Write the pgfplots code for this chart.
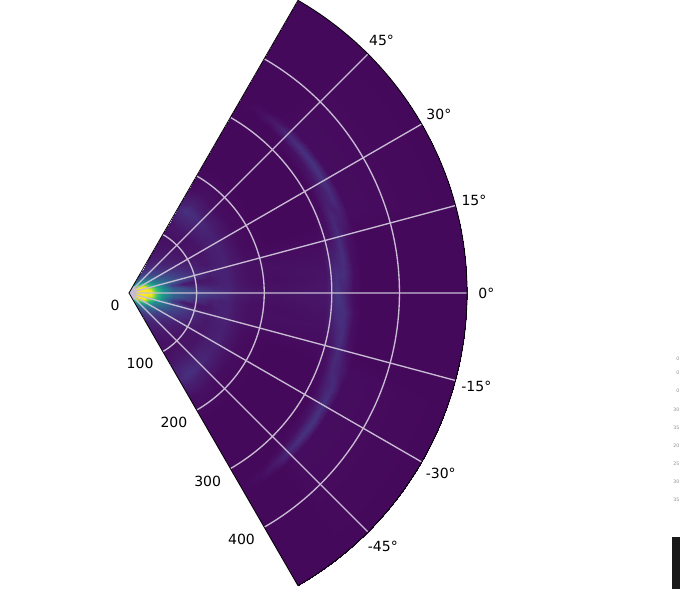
\documentclass[border=0pt]{standalone}
\usepackage{fontspec}
\setmainfont{DejaVu Sans}
\usepackage{pgfplots}
\pgfplotsset{compat=1.18}
\usepgfplotslibrary{polar}
\usetikzlibrary{calc}
\definecolor{gridlilac}{RGB}{200,188,212}
\begin{document}
\begin{tikzpicture}
\begin{polaraxis}[
    x=1.014pt, y=1.014pt,
    xmin=-60, xmax=60, ymin=0, ymax=500,
    xtick={-45,-30,-15,0,15,30,45},
    xticklabels={-45°,-30°,-15°,\hspace*{5pt}0°,15°,30°,45°},
    ytick={0,100,200,300,400},
    yticklabels={0,100,200,300,400},
    yticklabel style={anchor=east, xshift=-3.5pt, yshift=-9.2pt},
    grid=major,
    grid style={draw=gridlilac, line width=1pt},
    major tick length=0pt,
    axis on top,
    axis line style={black, line width=0.6pt},
    tick label style={font=\fontsize{10.5}{12}\selectfont, black},
    colormap/viridis,
    point meta min=0, point meta max=1,
]
\addplot[surf, shader=interp, mesh/cols=25, mesh/rows=22, point meta=explicit]
table[row sep=\\, x=t, y=r, meta=c]{
t r c\\
-60 0 1\\ -55 0 1\\ -50 0 1\\ -45 0 1\\ -40 0 1\\ -35 0 1\\ -30 0 1\\ -25 0 1\\ -20 0 1\\ -15 0 1\\ -10 0 1\\ -5 0 1\\ 0 0 1\\ 5 0 1\\ 10 0 1\\ 15 0 1\\ 20 0 1\\ 25 0 1\\ 30 0 1\\ 35 0 1\\ 40 0 1\\ 45 0 1\\ 50 0 1\\ 55 0 1\\ 60 0 1\\
-60 8 .6\\ -55 8 .7\\ -50 8 .8\\ -45 8 .9\\ -40 8 .95\\ -35 8 1\\ -30 8 1\\ -25 8 1\\ -20 8 1\\ -15 8 1\\ -10 8 1\\ -5 8 1\\ 0 8 1\\ 5 8 1\\ 10 8 1\\ 15 8 1\\ 20 8 1\\ 25 8 1\\ 30 8 1\\ 35 8 1\\ 40 8 .95\\ 45 8 .9\\ 50 8 .8\\ 55 8 .7\\ 60 8 .6\\
-60 16 .4\\ -55 16 .48\\ -50 16 .58\\ -45 16 .7\\ -40 16 .82\\ -35 16 .92\\ -30 16 1\\ -25 16 1\\ -20 16 1\\ -15 16 1\\ -10 16 1\\ -5 16 1\\ 0 16 1\\ 5 16 1\\ 10 16 1\\ 15 16 1\\ 20 16 1\\ 25 16 1\\ 30 16 1\\ 35 16 .92\\ 40 16 .82\\ 45 16 .7\\ 50 16 .58\\ 55 16 .48\\ 60 16 .4\\
-60 24 .22\\ -55 24 .3\\ -50 24 .36\\ -45 24 .45\\ -40 24 .55\\ -35 24 .68\\ -30 24 .82\\ -25 24 .92\\ -20 24 1\\ -15 24 1\\ -10 24 1\\ -5 24 1\\ 0 24 1\\ 5 24 1\\ 10 24 1\\ 15 24 1\\ 20 24 1\\ 25 24 .92\\ 30 24 .82\\ 35 24 .68\\ 40 24 .55\\ 45 24 .45\\ 50 24 .36\\ 55 24 .3\\ 60 24 .22\\
-60 32 .15\\ -55 32 .2\\ -50 32 .25\\ -45 32 .3\\ -40 32 .36\\ -35 32 .42\\ -30 32 .52\\ -25 32 .62\\ -20 32 .72\\ -15 32 .82\\ -10 32 .92\\ -5 32 .98\\ 0 32 1\\ 5 32 .98\\ 10 32 .92\\ 15 32 .82\\ 20 32 .72\\ 25 32 .62\\ 30 32 .52\\ 35 32 .42\\ 40 32 .36\\ 45 32 .3\\ 50 32 .25\\ 55 32 .2\\ 60 32 .15\\
-60 40 .12\\ -55 40 .14\\ -50 40 .17\\ -45 40 .2\\ -40 40 .25\\ -35 40 .3\\ -30 40 .36\\ -25 40 .42\\ -20 40 .5\\ -15 40 .58\\ -10 40 .68\\ -5 40 .72\\ 0 40 .75\\ 5 40 .72\\ 10 40 .68\\ 15 40 .58\\ 20 40 .5\\ 25 40 .42\\ 30 40 .36\\ 35 40 .3\\ 40 40 .25\\ 45 40 .2\\ 50 40 .17\\ 55 40 .14\\ 60 40 .12\\
-60 50 .08\\ -55 50 .1\\ -50 50 .12\\ -45 50 .14\\ -40 50 .16\\ -35 50 .19\\ -30 50 .24\\ -25 50 .3\\ -20 50 .35\\ -15 50 .4\\ -10 50 .48\\ -5 50 .5\\ 0 50 .55\\ 5 50 .5\\ 10 50 .48\\ 15 50 .4\\ 20 50 .35\\ 25 50 .3\\ 30 50 .24\\ 35 50 .19\\ 40 50 .16\\ 45 50 .14\\ 50 50 .12\\ 55 50 .1\\ 60 50 .08\\
-60 65 .06\\ -55 65 .07\\ -50 65 .08\\ -45 65 .09\\ -40 65 .1\\ -35 65 .12\\ -30 65 .15\\ -25 65 .19\\ -20 65 .23\\ -15 65 .27\\ -10 65 .18\\ -5 65 .3\\ 0 65 .34\\ 5 65 .3\\ 10 65 .18\\ 15 65 .3\\ 20 65 .23\\ 25 65 .19\\ 30 65 .15\\ 35 65 .12\\ 40 65 .1\\ 45 65 .09\\ 50 65 .08\\ 55 65 .07\\ 60 65 .06\\
-60 80 .05\\ -55 80 .05\\ -50 80 .06\\ -45 80 .06\\ -40 80 .07\\ -35 80 .08\\ -30 80 .1\\ -25 80 .13\\ -20 80 .17\\ -15 80 .2\\ -10 80 .07\\ -5 80 .22\\ 0 80 .27\\ 5 80 .22\\ 10 80 .07\\ 15 80 .23\\ 20 80 .17\\ 25 80 .13\\ 30 80 .1\\ 35 80 .08\\ 40 80 .07\\ 45 80 .06\\ 50 80 .06\\ 55 80 .05\\ 60 80 .05\\
-60 100 .04\\ -55 100 .04\\ -50 100 .04\\ -45 100 .04\\ -40 100 .05\\ -35 100 .05\\ -30 100 .06\\ -25 100 .08\\ -20 100 .1\\ -15 100 .12\\ -10 100 .05\\ -5 100 .14\\ 0 100 .22\\ 5 100 .13\\ 10 100 .05\\ 15 100 .14\\ 20 100 .1\\ 25 100 .08\\ 30 100 .06\\ 35 100 .05\\ 40 100 .05\\ 45 100 .04\\ 50 100 .04\\ 55 100 .04\\ 60 100 .04\\
-60 120 .05\\ -55 120 .06\\ -50 120 .06\\ -45 120 .05\\ -40 120 .05\\ -35 120 .05\\ -30 120 .05\\ -25 120 .06\\ -20 120 .06\\ -15 120 .08\\ -10 120 .06\\ -5 120 .09\\ 0 120 .17\\ 5 120 .09\\ 10 120 .06\\ 15 120 .09\\ 20 120 .06\\ 25 120 .06\\ 30 120 .05\\ 35 120 .05\\ 40 120 .05\\ 45 120 .05\\ 50 120 .06\\ 55 120 .06\\ 60 120 .05\\
-60 135 .09\\ -55 135 .1\\ -50 135 .1\\ -45 135 .09\\ -40 135 .09\\ -35 135 .08\\ -30 135 .08\\ -25 135 .08\\ -20 135 .08\\ -15 135 .09\\ -10 135 .09\\ -5 135 .09\\ 0 135 .14\\ 5 135 .09\\ 10 135 .09\\ 15 135 .09\\ 20 135 .08\\ 25 135 .08\\ 30 135 .08\\ 35 135 .08\\ 40 135 .09\\ 45 135 .09\\ 50 135 .1\\ 55 135 .1\\ 60 135 .09\\
-60 148 .1\\ -55 148 .14\\ -50 148 .13\\ -45 148 .11\\ -40 148 .1\\ -35 148 .09\\ -30 148 .09\\ -25 148 .09\\ -20 148 .09\\ -15 148 .09\\ -10 148 .09\\ -5 148 .09\\ 0 148 .11\\ 5 148 .09\\ 10 148 .09\\ 15 148 .09\\ 20 148 .09\\ 25 148 .09\\ 30 148 .09\\ 35 148 .09\\ 40 148 .1\\ 45 148 .11\\ 50 148 .13\\ 55 148 .14\\ 60 148 .1\\
-60 160 .07\\ -55 160 .09\\ -50 160 .08\\ -45 160 .07\\ -40 160 .07\\ -35 160 .06\\ -30 160 .06\\ -25 160 .06\\ -20 160 .06\\ -15 160 .06\\ -10 160 .06\\ -5 160 .06\\ 0 160 .08\\ 5 160 .06\\ 10 160 .06\\ 15 160 .06\\ 20 160 .06\\ 25 160 .06\\ 30 160 .06\\ 35 160 .06\\ 40 160 .07\\ 45 160 .07\\ 50 160 .08\\ 55 160 .09\\ 60 160 .07\\
-60 180 .03\\ -55 180 .04\\ -50 180 .04\\ -45 180 .03\\ -40 180 .03\\ -35 180 .03\\ -30 180 .03\\ -25 180 .03\\ -20 180 .03\\ -15 180 .04\\ -10 180 .04\\ -5 180 .04\\ 0 180 .06\\ 5 180 .04\\ 10 180 .04\\ 15 180 .04\\ 20 180 .03\\ 25 180 .03\\ 30 180 .03\\ 35 180 .03\\ 40 180 .03\\ 45 180 .03\\ 50 180 .04\\ 55 180 .04\\ 60 180 .03\\
-60 220 .02\\ -55 220 .02\\ -50 220 .02\\ -45 220 .02\\ -40 220 .02\\ -35 220 .02\\ -30 220 .02\\ -25 220 .02\\ -20 220 .02\\ -15 220 .03\\ -10 220 .04\\ -5 220 .035\\ 0 220 .05\\ 5 220 .035\\ 10 220 .04\\ 15 220 .03\\ 20 220 .02\\ 25 220 .02\\ 30 220 .02\\ 35 220 .02\\ 40 220 .02\\ 45 220 .02\\ 50 220 .02\\ 55 220 .02\\ 60 220 .02\\
-60 292 .02\\ -55 292 .02\\ -50 292 .02\\ -45 292 .02\\ -40 292 .02\\ -35 292 .02\\ -30 292 .02\\ -25 292 .02\\ -20 292 .02\\ -15 292 .03\\ -10 292 .04\\ -5 292 .05\\ 0 292 .06\\ 5 292 .05\\ 10 292 .04\\ 15 292 .03\\ 20 292 .02\\ 25 292 .02\\ 30 292 .02\\ 35 292 .02\\ 40 292 .02\\ 45 292 .02\\ 50 292 .02\\ 55 292 .02\\ 60 292 .02\\
-60 308 .02\\ -55 308 .02\\ -50 308 .02\\ -45 308 .02\\ -40 308 .02\\ -35 308 .02\\ -30 308 .02\\ -25 308 .03\\ -20 308 .04\\ -15 308 .05\\ -10 308 .09\\ -5 308 .13\\ 0 308 .16\\ 5 308 .13\\ 10 308 .09\\ 15 308 .05\\ 20 308 .04\\ 25 308 .03\\ 30 308 .02\\ 35 308 .02\\ 40 308 .02\\ 45 308 .02\\ 50 308 .02\\ 55 308 .02\\ 60 308 .02\\
-60 320 .02\\ -55 320 .02\\ -50 320 .02\\ -45 320 .03\\ -40 320 .04\\ -35 320 .05\\ -30 320 .06\\ -25 320 .08\\ -20 320 .11\\ -15 320 .12\\ -10 320 .13\\ -5 320 .13\\ 0 320 .09\\ 5 320 .13\\ 10 320 .13\\ 15 320 .12\\ 20 320 .11\\ 25 320 .08\\ 30 320 .06\\ 35 320 .05\\ 40 320 .04\\ 45 320 .03\\ 50 320 .02\\ 55 320 .02\\ 60 320 .02\\
-60 332 .02\\ -55 332 .03\\ -50 332 .06\\ -45 332 .11\\ -40 332 .14\\ -35 332 .15\\ -30 332 .14\\ -25 332 .12\\ -20 332 .08\\ -15 332 .05\\ -10 332 .04\\ -5 332 .04\\ 0 332 .03\\ 5 332 .04\\ 10 332 .04\\ 15 332 .05\\ 20 332 .08\\ 25 332 .12\\ 30 332 .14\\ 35 332 .15\\ 40 332 .14\\ 45 332 .11\\ 50 332 .06\\ 55 332 .03\\ 60 332 .02\\
-60 344 .02\\ -55 344 .02\\ -50 344 .02\\ -45 344 .03\\ -40 344 .03\\ -35 344 .03\\ -30 344 .03\\ -25 344 .03\\ -20 344 .03\\ -15 344 .02\\ -10 344 .02\\ -5 344 .02\\ 0 344 .02\\ 5 344 .02\\ 10 344 .02\\ 15 344 .02\\ 20 344 .03\\ 25 344 .03\\ 30 344 .03\\ 35 344 .03\\ 40 344 .03\\ 45 344 .03\\ 50 344 .02\\ 55 344 .02\\ 60 344 .02\\
-60 500 .02\\ -55 500 .02\\ -50 500 .02\\ -45 500 .02\\ -40 500 .02\\ -35 500 .02\\ -30 500 .02\\ -25 500 .02\\ -20 500 .02\\ -15 500 .02\\ -10 500 .02\\ -5 500 .02\\ 0 500 .02\\ 5 500 .02\\ 10 500 .02\\ 15 500 .02\\ 20 500 .02\\ 25 500 .02\\ 30 500 .02\\ 35 500 .02\\ 40 500 .02\\ 45 500 .02\\ 50 500 .02\\ 55 500 .02\\ 60 500 .02\\
};
\addplot[fill=black!25, draw=none] coordinates {(-60,0)(-60,14)(-30,11)(0,11)(30,11)(60,14)(60,0)(-60,0)};
\coordinate (pole) at (axis cs:0,0);
\end{polaraxis}
% screenshot leftovers at the right edge
\fill[black!90] ($(pole)+(407.25pt,-183pt)$) rectangle ($(pole)+(413.25pt,-222pt)$);
\foreach \py/\lab in {-49.5/0,-60/0,-73.5/0,-87.75/30,-101.25/35,-114.75/20,-128.25/25,-141.75/30,-155.25/35}
  \node[anchor=east, inner sep=0pt, font=\fontsize{3.5}{4}\selectfont, text=black!45] at ($(pole)+(413pt,\py pt)$) {\lab};
\pgfresetboundingbox
\useasboundingbox ($(pole)+(-96.75pt,219.75pt)$) rectangle ($(pole)+(413.25pt,-222pt)$);
\end{tikzpicture}
\end{document}
